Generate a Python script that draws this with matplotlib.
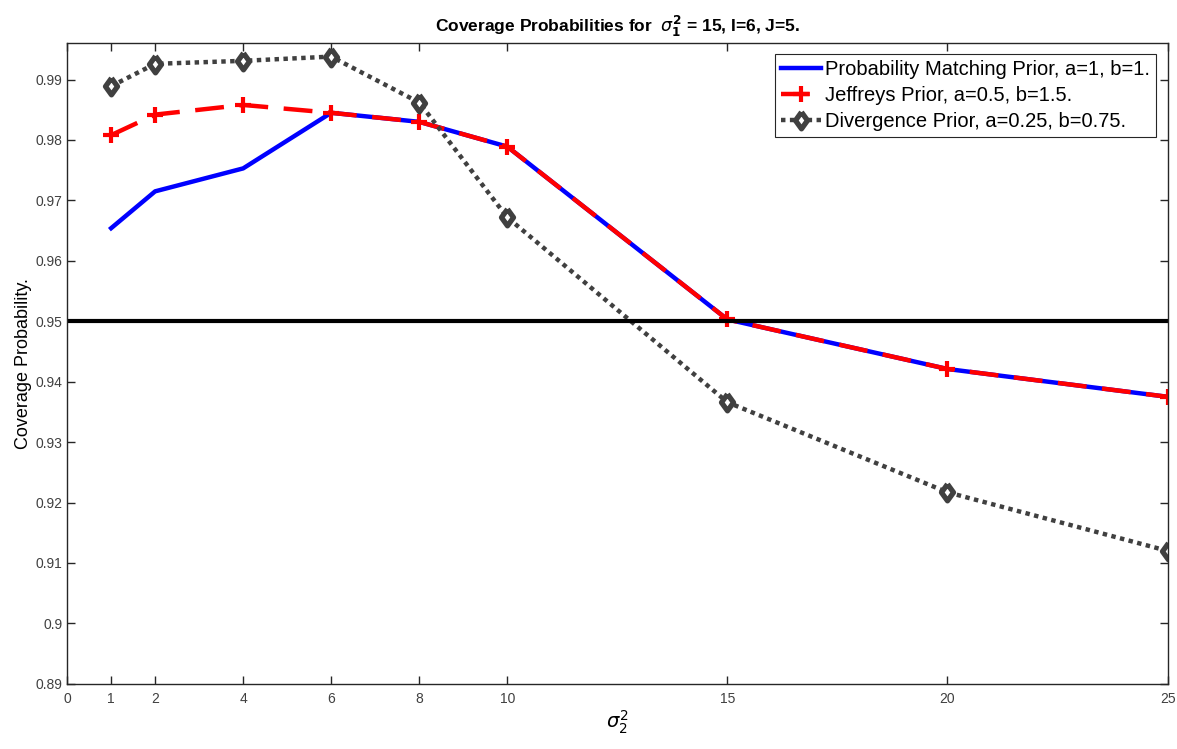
"""Coverage probabilities for three priors, recreated with matplotlib."""
import matplotlib

matplotlib.use("Agg")
import matplotlib.pyplot as plt

# Data
sigma2_sq = [1, 2, 4, 6, 8, 10, 15, 20, 25]
prob_matching = [0.9654, 0.9715, 0.9753, 0.9845, 0.9830, 0.9789, 0.9503, 0.9421, 0.9375]
jeffreys = [0.9808, 0.9842, 0.9858, 0.9845, 0.9830, 0.9789, 0.9503, 0.9421, 0.9375]
divergence = [0.9889, 0.9926, 0.9931, 0.9938, 0.9862, 0.9672, 0.9366, 0.9217, 0.9120]
nominal_level = 0.95

x_ticks = [0, 1, 2, 4, 6, 8, 10, 15, 20, 25]
y_ticks = [0.89, 0.90, 0.91, 0.92, 0.93, 0.94, 0.95, 0.96, 0.97, 0.98, 0.99]
y_tick_labels = ["0.89", "0.9", "0.91", "0.92", "0.93", "0.94", "0.95",
                 "0.96", "0.97", "0.98", "0.99"]

labels = [
    "Probability Matching Prior, a=1, b=1.",
    "Jeffreys Prior, a=0.5, b=1.5.",
    "Divergence Prior, a=0.25, b=0.75.",
]

# MATLAB-like diamond, a bit wider than matplotlib's thin one
DIAMOND = [(0, 1), (0.72, 0), (0, -1), (-0.72, 0), (0, 1)]

plt.rcParams["font.family"] = ["Liberation Sans", "DejaVu Sans"]
plt.rcParams["mathtext.fontset"] = "dejavusans"

fig = plt.figure(figsize=(11.77, 7.49), dpi=100)
ax = fig.add_axes([0.057, 0.087, 0.935, 0.856])

ax.plot(sigma2_sq, prob_matching, color="#0000ff", lw=3.2, label=labels[0])
ax.plot(sigma2_sq, jeffreys, color="#ff0000", lw=3.2, ls=(0, (6.5, 3.5)),
        marker="+", ms=11, mew=3, label=labels[1])
ax.plot(sigma2_sq, divergence, color="#404040", lw=3.2, ls=(0, (1, 1)),
        marker=DIAMOND, ms=12, mew=3.8, mfc="white", mec="#404040", label=labels[2])
ax.axhline(nominal_level, color="black", lw=3)

ax.set_xlim(0, 25)
ax.set_ylim(0.89, 0.9961)
ax.set_xticks(x_ticks)
ax.set_yticks(y_ticks)
ax.set_yticklabels(y_tick_labels)

ax.tick_params(direction="in", length=6, width=1, colors="#262626",
               labelsize=10, top=True, right=True)
ax.tick_params(axis="both", labelcolor="#404040")
ax.tick_params(axis="x", pad=6)
for spine in ax.spines.values():
    spine.set_color("#262626")
    spine.set_linewidth(1)

ax.set_title(r"Coverage Probabilities for  $\sigma_{\mathbf{1}}^{\mathbf{2}}$ = 15, I=6, J=5.",
             fontsize=12.5, fontweight="bold", pad=8)
ax.set_xlabel(r"$\sigma_2^2$", fontsize=14, labelpad=2)
ax.set_ylabel("Coverage Probability.", fontsize=13, labelpad=2)

leg = ax.legend(loc="upper right", bbox_to_anchor=(0.9895, 0.982),
                fontsize=14.5, fancybox=False, framealpha=1,
                edgecolor="#262626", handlelength=2.0, handletextpad=0.2,
                borderpad=0.3, labelspacing=0.33, borderaxespad=0)
leg.get_frame().set_linewidth(0.8)

fig.savefig("out.png", dpi=100)
